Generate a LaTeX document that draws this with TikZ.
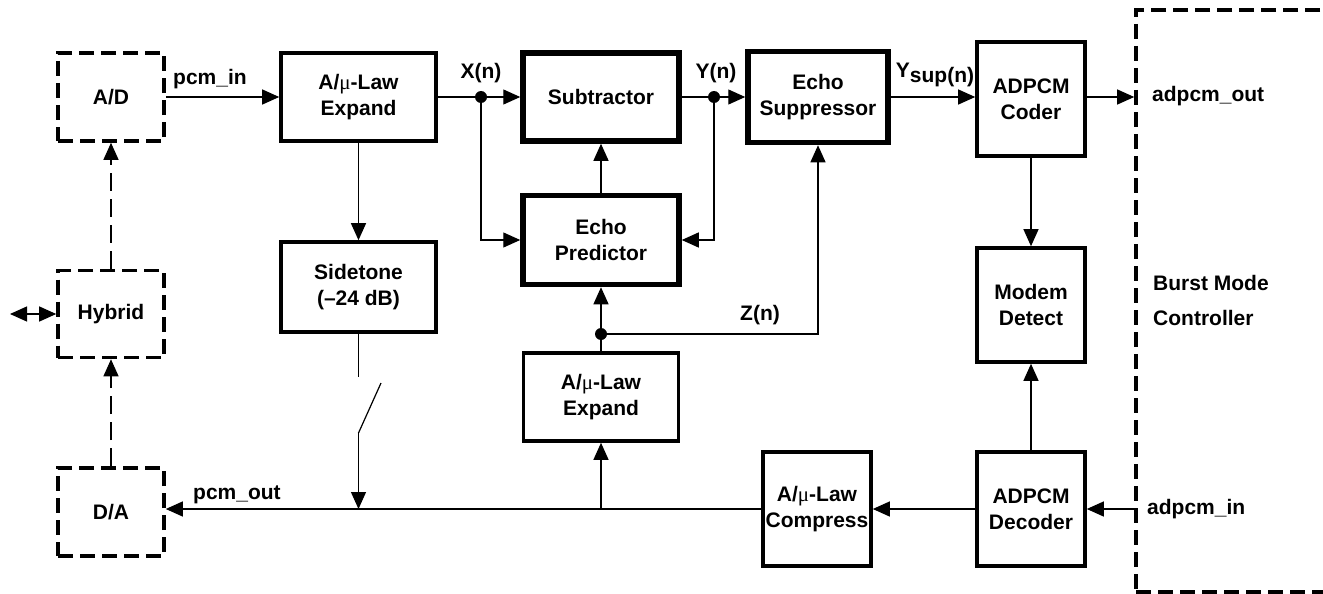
\documentclass[tikz,border=0pt]{standalone}
\usepackage{fontspec}
\setmainfont{Liberation Sans}
\newfontfamily\mufont{Liberation Serif}
\usetikzlibrary{arrows.meta}
\newcommand{\mymu}{{\mufont\mdseries μ}}
\begin{document}
\begin{tikzpicture}[x=1pt,y=-1pt,
  every node/.style={font=\fontsize{21}{26}\selectfont\bfseries, align=center, inner sep=0pt},
  box/.style={draw, line width=3.6pt},
  tbox/.style={draw, line width=5.5pt},
  dbox/.style={draw, line width=3.6pt, dash pattern=on 15pt off 7pt},
  conn/.style={line width=1.2pt},
  arr/.style={conn, -{Triangle[length=17pt,width=15pt]}},
  darr/.style={conn, {Triangle[length=17pt,width=15pt]}-{Triangle[length=17pt,width=15pt]}},
  dline/.style={dash pattern=on 18pt off 8pt},
  lbl/.style={font=\fontsize{21}{24}\selectfont\bfseries}
]
\useasboundingbox (0,0) rectangle (1323,594);
\clip (0,0) rectangle (1323,594);

% blocks
\node[dbox, minimum width=106pt, minimum height=88pt] (AD) at (111,97) {A/D};
\node[dbox, minimum width=106pt, minimum height=87pt] (Hyb) at (111,314) {Hybrid};
\node[dbox, minimum width=106pt, minimum height=88pt] (DA) at (111,512) {D/A};
\node[box, minimum width=155pt, minimum height=88pt] (ExpT) at (358.5,97) {A/\mymu-Law\\Expand};
\node[box, minimum width=155pt, minimum height=90pt] (Side) at (358.5,287) {Sidetone\\(–24 dB)};
\node[tbox, minimum width=156pt, minimum height=88pt] (Sub) at (601,97) {Subtractor};
\node[tbox, minimum width=156pt, minimum height=89pt] (Pred) at (601,240) {Echo\\Predictor};
\node[box, minimum width=155pt, minimum height=88pt] (ExpB) at (601,397) {A/\mymu-Law\\Expand};
\node[tbox, minimum width=140pt, minimum height=91pt] (Sup) at (818,97) {Echo\\Suppressor};
\node[box, minimum width=108pt, minimum height=114pt] (Coder) at (1031,99) {ADPCM\\Coder};
\node[box, minimum width=108pt, minimum height=114pt] (Modem) at (1031,305) {Modem\\Detect};
\node[box, minimum width=108pt, minimum height=114pt] (Dec) at (1031,509) {ADPCM\\Decoder};
\node[box, minimum width=108pt, minimum height=114pt] (Comp) at (817,509) {A/\mymu-Law\\Compress};
\node[dbox, minimum width=230pt, minimum height=582pt] (BMC) at (1251,301) {};
\node[anchor=west, align=left] (BMCt) at (1153,300) {Burst Mode\\[9pt]Controller};

% junction coordinates
\coordinate (X) at (481,97);
\coordinate (Y) at (714,97);
\coordinate (Z) at (601,334);
\coordinate (sw1) at (358.5,377);
\coordinate (sw2) at (358.5,433);
\coordinate (sw3) at (381,383);
\coordinate (ext) at (10,314);

% connectors
\draw[arr] (AD) -- (ExpT);
\draw[conn] (ExpT) -- (X);
\draw[arr] (X) -- (Sub);
\draw[conn] (Sub) -- (Y);
\draw[arr] (Y) -- (Sup);
\draw[arr] (Sup.east) -- (Sup.east -| Coder.west);
\draw[arr] (Sup.east -| Coder.east) -- (Sup.east -| BMC.west);
\draw[arr] (X) |- (Pred.west);
\draw[arr] (Y) |- (Pred.east);
\draw[arr] (Pred) -- (Sub);
\draw[conn] (ExpB) -- (Z);
\draw[arr] (Z) -- (Pred);
\draw[arr] (Z) -| (Sup.south);
\draw[arr] (ExpT) -- (Side);
\draw[conn] (Side) -- (sw1);
\draw[conn] (sw2) -- (sw3);
\draw[arr] (sw2) -- (sw2 |- Comp.west);
\draw[arr] (Coder) -- (Modem);
\draw[arr] (Dec) -- (Modem);
\draw[arr] (Dec.east -| BMC.west) -- (Dec.east);
\draw[arr] (Dec) -- (Comp);
\draw[arr] (Comp.west) -- (Comp.west -| DA.east);
\draw[arr] (ExpB.south |- Comp.west) -- (ExpB);
\draw[arr, dline] (Hyb) -- (AD);
\draw[arr, dline] (DA) -- (Hyb);
\draw[darr] (ext) -- (Hyb.west);

% junction dots
\fill (X) circle (6pt);
\fill (Y) circle (6pt);
\fill (Z) circle (6pt);

% labels
\node[lbl, anchor=west] (lpin) at (173,79) {pcm\_in};
\node[lbl, anchor=west] (lpout) at (193,495) {pcm\_out};
\node[lbl] (lX) at (481,73) {X(n)};
\node[lbl] (lY) at (716,73) {Y(n)};
\node[lbl] (lYs) at (935,75) {\raisebox{5pt}{Y}sup(n)};
\node[lbl] (lZ) at (760,315) {Z(n)};
\node[lbl, anchor=west] (lout) at (1152,96) {adpcm\_out};
\node[lbl, anchor=west] (lin) at (1147,509) {adpcm\_in};
\end{tikzpicture}
\end{document}
